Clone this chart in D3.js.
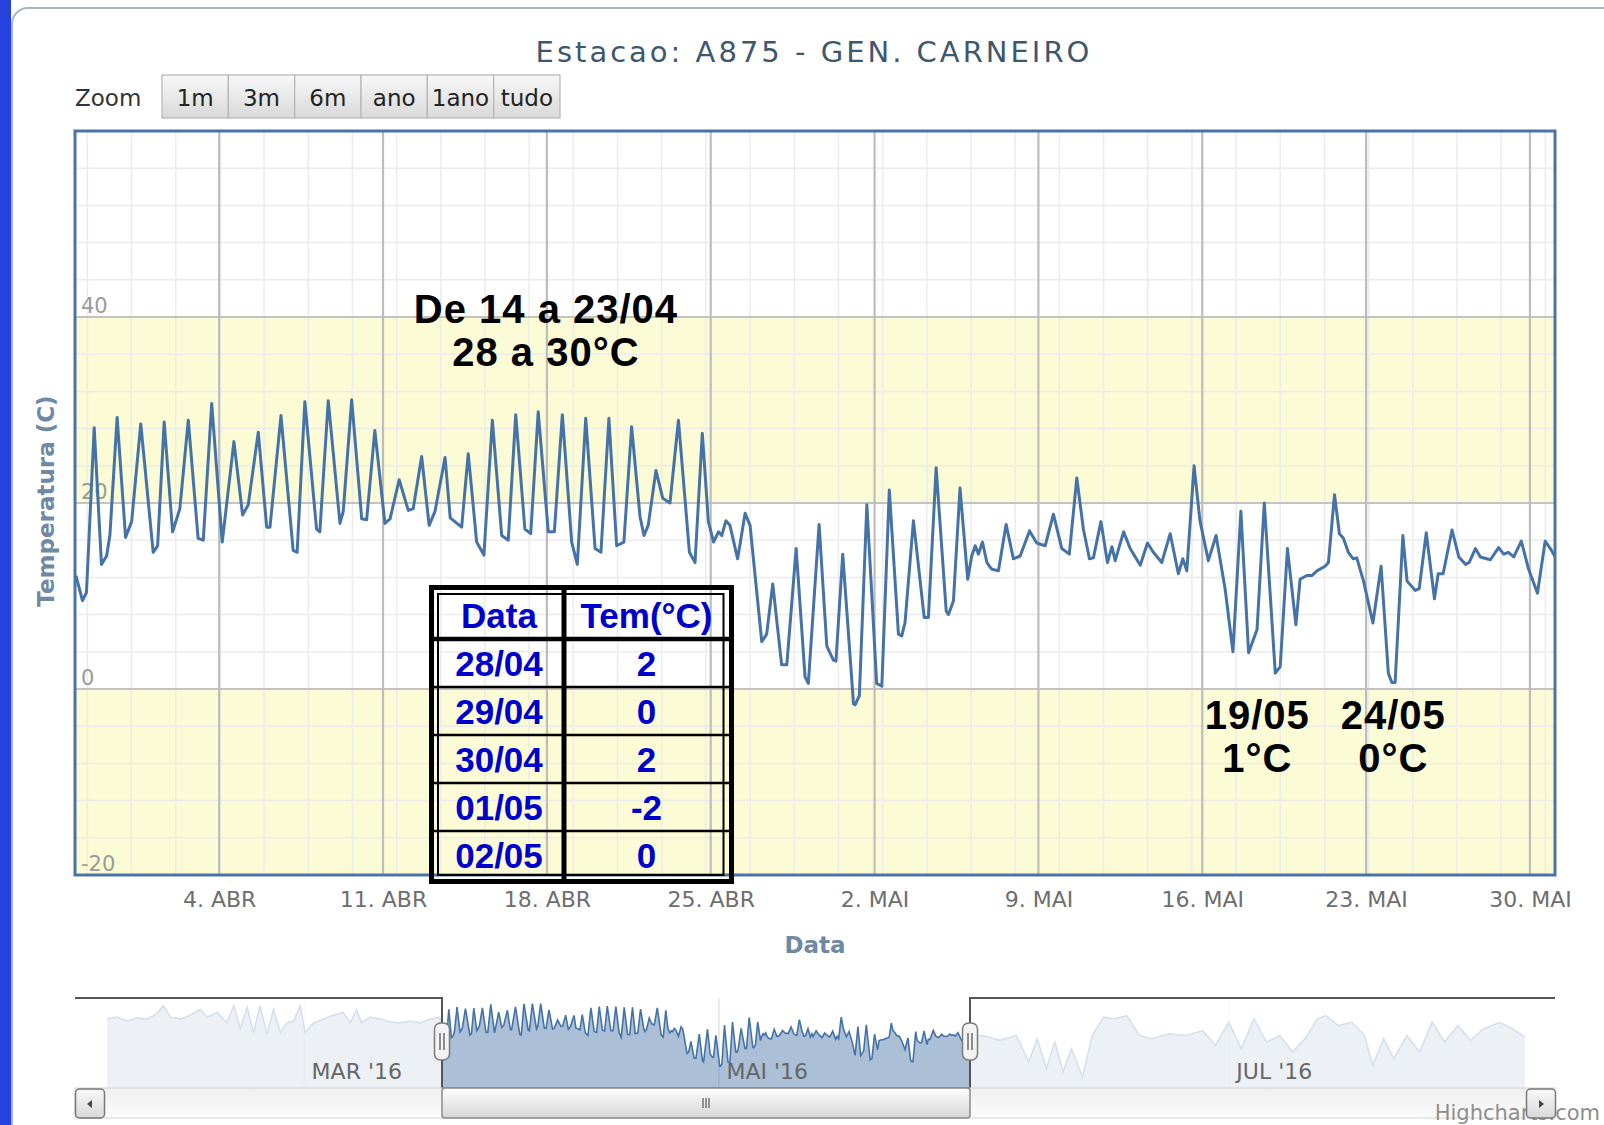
<!DOCTYPE html>
<html lang="pt">
<head>
<meta charset="UTF-8">
<title>Estacao A875 - GEN. CARNEIRO</title>
<script src="https://d3js.org/d3.v7.min.js"></script>
<style>
  body { margin: 0; background: #fff; }
  svg { display: block; font-family: "DejaVu Sans", sans-serif; }
  .nota { font-family: "Liberation Sans", Arial, sans-serif; font-weight: bold; }
</style>
</head>
<body>
<div class="chart"></div>
<script>
const titulo = "Estacao: A875 - GEN. CARNEIRO";
const meses = ["JAN","FEV","MAR","ABR","MAI","JUN","JUL","AGO","SET","OUT","NOV","DEZ"];
const botoesZoom = ["1m","3m","6m","ano","1ano","tudo"];

// dias contados a partir de 04/04/2016 00h (UTC)
const dias = [
  -6.12,-5.84,-5.67,-5.34,-5.03,-4.81,-4.67,-4.36,-4.00,-3.74,
  -3.35,-2.82,-2.63,-2.35,-1.99,-1.68,-1.32,-0.90,-0.68,-0.32,
  0.13,0.63,1.00,1.24,1.67,2.03,2.17,2.64,3.16,3.33,
  3.66,4.16,4.30,4.66,5.16,5.30,5.66,6.09,6.30,6.65,
  7.08,7.30,7.69,8.08,8.29,8.65,8.97,9.22,9.65,9.87,
  10.36,10.64,11.00,11.31,11.67,12.07,12.35,12.67,13.06,13.31,
  13.63,14.06,14.32,14.66,15.06,15.30,15.66,16.06,16.31,16.65,
  16.98,17.29,17.62,17.98,18.15,18.33,18.66,18.95,19.26,19.62,
  20.09,20.33,20.64,20.90,21.12,21.33,21.47,21.65,21.82,22.15,
  22.47,22.68,23.18,23.39,23.65,24.03,24.25,24.65,25.03,25.17,
  25.63,25.96,26.24,26.35,26.64,27.10,27.17,27.35,27.67,28.09,
  28.31,28.63,29.02,29.16,29.30,29.66,30.12,30.30,30.63,31.06,
  31.16,31.37,31.65,31.98,32.15,32.30,32.44,32.61,32.80,33.00,
  33.29,33.62,33.93,34.22,34.62,34.93,35.29,35.64,36.00,36.32,
  36.64,36.92,37.18,37.35,37.67,37.95,38.14,38.28,38.64,38.92,
  39.35,39.66,39.91,40.27,40.63,40.98,41.17,41.34,41.65,41.90,
  42.26,42.59,42.98,43.31,43.65,43.98,44.34,44.65,45.12,45.33,
  45.64,46.00,46.18,46.47,46.68,46.90,47.25,47.39,47.65,47.86,
  48.03,48.24,48.45,48.60,48.89,49.29,49.64,49.95,50.10,50.24,
  50.57,50.75,51.10,51.27,51.57,51.92,52.08,52.29,52.67,52.96,
  53.25,53.40,53.67,53.88,54.31,54.66,54.88,55.08,55.31,55.63,
  55.94,56.32,56.65,56.87,57.08
];
const temps = [
  12.2,9.5,10.4,28.1,13.4,14.3,16.5,29.2,16.3,18.0,
  28.5,14.7,15.4,28.7,16.9,19.4,28.9,16.2,16.0,30.7,
  15.8,26.6,18.7,19.8,27.6,17.4,17.4,29.4,14.9,14.7,
  30.9,17.2,16.9,31.0,17.8,19.1,31.1,18.3,18.2,27.8,
  17.8,18.3,22.5,19.2,19.4,25.0,17.6,19.1,24.9,18.4,
  17.4,25.3,15.8,14.4,28.9,16.5,16.0,29.5,17.2,16.7,
  29.8,16.9,16.9,29.5,15.8,13.4,29.1,15.1,14.7,29.1,
  15.4,15.8,28.2,18.5,16.5,17.6,23.5,20.5,20.0,28.9,
  14.7,13.6,27.5,18.0,15.8,16.9,16.5,18.1,17.6,14.0,
  18.9,17.6,5.1,5.9,11.3,2.6,2.6,15.1,1.3,0.6,
  17.7,4.6,3.1,3.0,14.5,-1.6,-1.7,-0.7,19.8,0.6,
  0.3,21.4,5.9,5.7,7.1,18.1,7.7,7.7,23.8,8.4,
  8.0,9.5,21.6,11.8,14.3,15.4,14.5,15.8,13.6,12.9,
  12.7,17.7,14.0,14.3,17.0,15.7,15.4,18.8,15.1,14.5,
  22.7,17.2,14.0,14.1,18.0,13.6,15.3,13.8,16.9,15.1,
  13.3,15.7,14.7,13.6,16.7,12.4,14.0,12.7,24.0,18.1,
  13.8,16.5,10.7,4.0,19.1,3.9,6.4,20.0,1.7,2.4,
  15.1,6.9,11.8,12.2,12.2,12.7,13.2,13.6,20.9,16.7,
  16.2,14.7,14.0,14.1,11.6,7.1,13.2,1.7,0.7,0.7,
  16.5,11.6,10.6,10.8,16.8,9.7,12.4,12.4,17.1,14.2,
  13.4,13.6,15.1,14.2,13.9,15.2,14.5,14.7,14.2,15.9,
  12.9,10.3,15.9,15.1,14.2
];

// navegador: periodo fora da janela visivel
const navDiasAntes = [
  -73.8,-71.7,-69.7,-67.7,-65.7,-63.7,-62.4,-61.0,-59.0,-57.0,
  -55.0,-53.6,-51.6,-49.6,-48.2,-46.9,-45.5,-44.2,-42.9,-41.5,
  -40.2,-38.8,-37.5,-36.1,-34.8,-33.8,-32.1,-30.1,-28.1,-26.1,
  -24.7,-23.4,-22.4,-20.7,-18.7,-16.7,-14.7,-12.6,-10.6,-8.6,-6.6
];
const navTempsAntes = [
  23,24,22,23.5,23,26,30,24,23,25,
  28,24,26.5,21,30,18,29,16,30,15,
  28,16,21,22,30,16,21,23,25,26.5,
  21,28,21,24,23,21.5,21,22,21,23,24
];
const navDiasDepois = [
  58.6,60.6,62.6,64.1,65.1,66.2,67.2,68.2,69.2,70.5,
  71.7,73.0,74.3,75.8,77.3,78.8,80.9,82.9,84.9,86.4,
  88.0,89.5,91.0,92.5,94.1,95.6,97.1,98.6,99.6,101.1,
  102.7,104.2,105.2,106.5,107.7,109.3,110.8,112.3,113.8,115.4,
  116.9,118.4,120.4,121.9,123.4
];
const navTempsDepois = [
  14.4,11.9,14.4,0.6,12.7,-2.8,11,-4.5,7.5,-7.2,
  14.4,24,23.1,24.8,14.4,12.7,15.3,14.4,16.9,9.2,
  21.3,7.5,23.1,11,14.4,5.8,12.7,23.1,24.8,19.6,
  21.3,14.4,-1.1,12.7,2.3,14.4,5.8,21.3,11,19.6,
  11.9,17.8,21.3,17.8,13.6
];

const faixasY = [[-20, 0], [20, 40]];
const ticksY = [-20, 0, 20, 40];

const tabelaDatas = ["28/04","29/04","30/04","01/05","02/05"];
const tabelaTemps = ["2","0","2","-2","0"];

const notas = [
  {dia: 13.96, temp: 39.4, linhas: ["De 14 a 23/04", "28 a 30°C"]},
  {dia: 44.35, temp: -4.3, linhas: ["19/05", "1°C"]},
  {dia: 50.16, temp: -4.3, linhas: ["24/05", "0°C"]}
];

const base = Date.UTC(2016, 3, 4);
const toDate = d => new Date(base + d * 864e5);

const inicio = toDate(-6.16), fim = toDate(57.07);
const plot = {x0: 75, x1: 1555, y0: 131, y1: 875};

const svg = d3.select(".chart").append("svg")
  .attr("width", 1604).attr("height", 1125);

const defs = svg.append("defs");
defs.append("clipPath").attr("id", "clipPlot").append("rect")
  .attr("x", plot.x0).attr("y", plot.y0)
  .attr("width", plot.x1 - plot.x0).attr("height", plot.y1 - plot.y0);
function gradiente(id, c0, c1) {
  const g = defs.append("linearGradient").attr("id", id)
    .attr("x1", 0).attr("y1", 0).attr("x2", 0).attr("y2", 1);
  g.append("stop").attr("offset", "0%").attr("stop-color", c0);
  g.append("stop").attr("offset", "100%").attr("stop-color", c1);
}
gradiente("gradBotao", "#f8f8f8", "#d9d9d9");
gradiente("gradTrilho", "#efefef", "#fbfbfb");
gradiente("gradBarra", "#ffffff", "#d6d6d6");

// moldura da captura
svg.append("rect").attr("x", 12).attr("y", 8).attr("width", 1640).attr("height", 1160)
  .attr("rx", 16).attr("fill", "#fff").attr("stroke", "#a7b5c8").attr("stroke-width", 2);
svg.append("rect").attr("width", 11).attr("height", 1125).attr("fill", "#2541de");

// titulo
svg.append("text").attr("x", 814).attr("y", 62).attr("text-anchor", "middle")
  .attr("font-size", 29).attr("letter-spacing", 3).attr("fill", "#3e576f").text(titulo);

// botoes de zoom
svg.append("text").attr("x", 75).attr("y", 106).attr("font-size", 23)
  .attr("fill", "#333").text("Zoom");
const bx = d3.scaleBand().domain(botoesZoom).range([162, 560]);
const botoes = svg.append("g").selectAll("g").data(botoesZoom).join("g")
  .attr("transform", d => `translate(${bx(d)},75)`);
botoes.append("rect").attr("width", bx.bandwidth()).attr("height", 43)
  .attr("fill", "url(#gradBotao)").attr("stroke", "#b4b4b4").attr("stroke-width", 1.2);
botoes.append("text").attr("x", bx.bandwidth() / 2).attr("y", 31).attr("text-anchor", "middle")
  .attr("font-size", 23).attr("fill", "#222").text(d => d);

// escalas principais
const x = d3.scaleUtc().domain([inicio, fim]).range([plot.x0, plot.x1]);
const y = d3.scaleLinear().domain([-20, 60]).range([plot.y1, plot.y0]);

// faixas amarelas
svg.append("g").selectAll("rect").data(faixasY).join("rect")
  .attr("x", plot.x0).attr("width", plot.x1 - plot.x0)
  .attr("y", d => y(d[1])).attr("height", d => y(d[0]) - y(d[1]))
  .attr("fill", "#fbfbd5");

// grade secundaria
const grade = svg.append("g");
grade.selectAll(".my").data(d3.range(-16, 60, 4).filter(v => v % 20 !== 0)).join("line")
  .attr("x1", plot.x0).attr("x2", plot.x1)
  .attr("y1", d => y(d)).attr("y2", d => y(d))
  .attr("stroke", "#ebebeb").attr("stroke-width", 1.5);
const passoMenor = 1.8876;
grade.selectAll(".mx").data(d3.range(-5.632, 57.07, passoMenor).map(toDate)).join("line")
  .attr("x1", d => x(d)).attr("x2", d => x(d))
  .attr("y1", plot.y0).attr("y2", plot.y1)
  .attr("stroke", "#ececec").attr("stroke-width", 1.5);

// grade principal
const semanas = x.ticks(d3.utcMonday);
grade.selectAll(".gy").data(ticksY.filter(v => v > -20)).join("line")
  .attr("x1", plot.x0).attr("x2", plot.x1)
  .attr("y1", d => y(d)).attr("y2", d => y(d))
  .attr("stroke", "#c3c3c3").attr("stroke-width", 2);
grade.selectAll(".gx").data(semanas).join("line")
  .attr("x1", d => x(d)).attr("x2", d => x(d))
  .attr("y1", plot.y0).attr("y2", plot.y1)
  .attr("stroke", "#bdbdbd").attr("stroke-width", 2.2);

// rotulos do eixo y (dentro da area)
svg.append("g").attr("transform", `translate(81,0)`)
  .call(d3.axisRight(y).tickValues(ticksY).tickSize(0).tickFormat(d => String(d)))
  .call(g => g.select(".domain").remove())
  .call(g => g.attr("font-family", null).attr("font-size", 21))
  .call(g => g.selectAll("text").attr("x", 0).attr("y", -5).attr("dy", null).attr("fill", "#9a9a9a"));

// serie
const linha = d3.line().x(d => x(toDate(d[0]))).y(d => y(d[1]));
svg.append("path").datum(d3.zip(dias, temps))
  .attr("clip-path", "url(#clipPlot)")
  .attr("d", linha).attr("fill", "none")
  .attr("stroke", "#4572a7").attr("stroke-width", 3).attr("stroke-linejoin", "round");

// borda da area do grafico
svg.append("rect").attr("x", plot.x0).attr("y", plot.y0)
  .attr("width", plot.x1 - plot.x0).attr("height", plot.y1 - plot.y0)
  .attr("fill", "none").attr("stroke", "#4a74a6").attr("stroke-width", 3);

// eixo x
svg.append("g").attr("transform", `translate(0,${plot.y1})`)
  .call(d3.axisBottom(x).tickValues(semanas).tickSize(0)
    .tickFormat(d => `${d.getUTCDate()}. ${meses[d.getUTCMonth()]}`))
  .call(g => g.select(".domain").remove())
  .call(g => g.attr("font-family", null).attr("font-size", 22))
  .call(g => g.selectAll("text").attr("y", 32).attr("dy", null).attr("fill", "#6e6e6e"));

// titulos dos eixos
svg.append("text").attr("x", 815).attr("y", 953).attr("text-anchor", "middle")
  .attr("font-size", 23).attr("font-weight", "bold").attr("fill", "#7089a3").text("Data");
svg.append("text").attr("transform", "translate(54,501) rotate(-90)")
  .attr("text-anchor", "middle").attr("font-size", 23).attr("font-weight", "bold")
  .attr("fill", "#7089a3").text("Temperatura (C)");

// anotacoes
notas.forEach(n => {
  const t = svg.append("text").attr("class", "nota").attr("text-anchor", "middle")
    .attr("font-size", 40).attr("letter-spacing", 1).attr("fill", "#000");
  n.linhas.forEach((l, i) => {
    t.append("tspan").attr("x", x(toDate(n.dia))).attr("y", y(n.temp) + i * 43).text(l);
  });
});

// tabela
const tab = svg.append("g");
const linhasTab = d3.scaleBand().domain(d3.range(tabelaDatas.length + 1)).range([591, 879]);
const colTab = d3.scaleLinear().domain([0, 1, 2]).range([434, 564, 729]);
tab.append("rect").attr("x", 431.5).attr("y", 587.5).attr("width", 300).attr("height", 294)
  .attr("fill", "none").attr("stroke", "#000").attr("stroke-width", 5);
tab.append("rect").attr("x", 438).attr("y", 594).attr("width", 285.5).attr("height", 281)
  .attr("fill", "none").attr("stroke", "#000").attr("stroke-width", 2);
tab.append("line").attr("x1", colTab(1)).attr("x2", colTab(1)).attr("y1", 587).attr("y2", 882)
  .attr("stroke", "#000").attr("stroke-width", 5);
tab.selectAll(".lt").data(d3.range(1, tabelaDatas.length + 1)).join("line")
  .attr("x1", 431).attr("x2", 732)
  .attr("y1", d => linhasTab(d)).attr("y2", d => linhasTab(d))
  .attr("stroke", "#000").attr("stroke-width", d => d === 1 ? 4.5 : 2.5);
const celulas = [["Data", "Tem(°C)"]].concat(d3.zip(tabelaDatas, tabelaTemps));
celulas.forEach((row, i) => {
  row.forEach((txt, j) => {
    tab.append("text").attr("class", "nota")
      .attr("x", colTab(j + 0.5)).attr("y", linhasTab(i) + linhasTab.bandwidth() / 2 + 13)
      .attr("text-anchor", "middle").attr("font-size", 35).attr("fill", "#0000cc").text(txt);
  });
});

// navegador
const navTop = 998, navBot = 1088;
const navDados = d3.zip(navDiasAntes, navTempsAntes)
  .concat(d3.zip(dias, temps), d3.zip(navDiasDepois, navTempsDepois));
const navIni = toDate(navDiasAntes[0]), navFim = toDate(navDiasDepois[navDiasDepois.length - 1]);
const navX = d3.scaleUtc().domain([navIni, inicio, fim, navFim]).range([107, 442, 970, 1525]);
const navY = d3.scaleLinear().domain([-13, 34]).range([navBot, navTop]);
const selX0 = navX(inicio), selX1 = navX(fim);
const mesesNav = d3.utcMonth.every(2).range(navIni, navFim);

const nav = svg.append("g");
nav.selectAll(".ng").data(mesesNav).join("line")
  .attr("x1", d => navX(d)).attr("x2", d => navX(d)).attr("y1", navTop).attr("y2", navBot)
  .attr("stroke", "#dedede").attr("stroke-width", 1.2);
nav.append("path").datum(navDados)
  .attr("d", d3.area().x(d => navX(toDate(d[0]))).y0(navBot).y1(d => navY(d[1])))
  .attr("fill", "#4572a7").attr("fill-opacity", 0.45);
nav.append("path").datum(navDados)
  .attr("d", d3.line().x(d => navX(toDate(d[0]))).y(d => navY(d[1])))
  .attr("fill", "none").attr("stroke", "#4572a7").attr("stroke-width", 1.6);
nav.append("rect").attr("x", plot.x0).attr("y", navTop).attr("width", selX0 - plot.x0)
  .attr("height", navBot - navTop).attr("fill", "rgba(255,255,255,0.78)");
nav.append("rect").attr("x", selX1).attr("y", navTop).attr("width", plot.x1 - selX1)
  .attr("height", navBot - navTop).attr("fill", "rgba(255,255,255,0.78)");

svg.append("g")
  .call(d3.axisBottom(navX).tickValues(mesesNav).tickSize(0)
    .tickFormat(d => `${meses[d.getUTCMonth()]} '${String(d.getUTCFullYear()).slice(2)}`))
  .call(g => g.select(".domain").remove())
  .call(g => g.attr("font-family", null).attr("font-size", 22))
  .call(g => g.selectAll("text").attr("x", 7).attr("y", 1079).attr("dy", null)
    .attr("text-anchor", "start").attr("fill", "#666"));

nav.append("path")
  .attr("d", `M${plot.x0},${navTop}H${selX0}V${navBot}H${selX1}V${navTop}H${plot.x1}`)
  .attr("fill", "none").attr("stroke", "#555").attr("stroke-width", 2);

// barra de rolagem
const sb = svg.append("g");
sb.append("rect").attr("x", plot.x0).attr("y", navBot).attr("width", plot.x1 - plot.x0).attr("height", 30)
  .attr("fill", "url(#gradTrilho)").attr("stroke", "#d2d2d2").attr("stroke-width", 1);
sb.append("rect").attr("x", selX0).attr("y", navBot).attr("width", selX1 - selX0).attr("height", 30)
  .attr("rx", 3).attr("fill", "url(#gradBarra)").attr("stroke", "#8a8a8a").attr("stroke-width", 1.5);
const meio = (selX0 + selX1) / 2;
sb.selectAll(".grip").data([-3, 0, 3]).join("line")
  .attr("x1", d => meio + d).attr("x2", d => meio + d).attr("y1", 1098).attr("y2", 1108)
  .attr("stroke", "#555").attr("stroke-width", 1.2);

// credito (por cima do trilho, sob o botao)
sb.append("text").attr("x", 1600).attr("y", 1120).attr("text-anchor", "end")
  .attr("font-size", 21).attr("fill", "#8e8e8e").text("Highcharts.com");

[[plot.x0, -1], [plot.x1 - 29, 1]].forEach(([bx0, dir]) => {
  sb.append("rect").attr("x", bx0 + 0.5).attr("y", navBot + 1).attr("width", 29).attr("height", 29)
    .attr("rx", 4).attr("fill", "url(#gradBotao)").attr("stroke", "#777").attr("stroke-width", 1.5);
  const cx = bx0 + 15, cy = navBot + 16;
  sb.append("path").attr("d", `M${cx + 3 * dir},${cy}L${cx - 2 * dir},${cy - 4}L${cx - 2 * dir},${cy + 4}Z`)
    .attr("fill", "#444");
});

// alcas do navegador
[selX0, selX1].forEach(hx => {
  nav.append("rect").attr("x", hx - 7.5).attr("y", 1023).attr("width", 15).attr("height", 37)
    .attr("rx", 6).attr("fill", "#f3f3f3").attr("stroke", "#7a7a7a").attr("stroke-width", 1.5);
  [-2, 2].forEach(d => nav.append("line").attr("x1", hx + d).attr("x2", hx + d)
    .attr("y1", 1033).attr("y2", 1050).attr("stroke", "#555").attr("stroke-width", 1.3));
});
</script>
</body>
</html>
